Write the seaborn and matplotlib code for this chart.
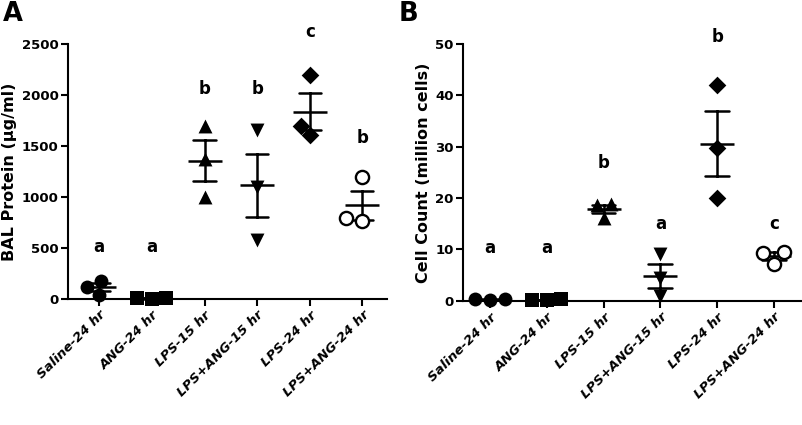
import numpy as np
import pandas as pd
import matplotlib
matplotlib.use('Agg')
import matplotlib.pyplot as plt
import seaborn as sns

# groups (x categories)
groups = ['Saline-24 hr', 'ANG-24 hr', 'LPS-15 hr', 'LPS+ANG-15 hr', 'LPS-24 hr', 'LPS+ANG-24 hr']
markers = ['o', 's', '^', 'v', 'D', 'o']
open_marker = [False, False, False, False, False, True]

# panel A: BAL protein (ug/ml), three animals per group
protein = [
    [40, 120, 175],
    [0, 5, 10],
    [1700, 1370, 1000],
    [1660, 1100, 580],
    [2200, 1700, 1610],
    [1200, 760, 790],
]
protein_letters = ['a', 'a', 'b', 'b', 'c', 'b']
protein_letter_y = [510, 510, 2060, 2060, 2620, 1580]

# panel B: cell count (million cells)
cells = [
    [0.3, 0.2, 0.3],
    [0.2, 0.2, 0.3],
    [18.8, 16.2, 18.6],
    [9.2, 4.4, 1.0],
    [42.0, 29.7, 20.0],
    [9.6, 7.2, 9.4],
]
cells_letters = ['a', 'a', 'b', 'a', 'b', 'c']
cells_letter_y = [10.3, 10.3, 26.8, 15.0, 51.3, 15.0]

sns.set_style('ticks')
plt.rcParams['font.family'] = ['DejaVu Sans']
plt.rcParams['font.weight'] = 'bold'
for k in ['text.color', 'axes.labelcolor', 'xtick.color', 'ytick.color', 'axes.edgecolor']:
    plt.rcParams[k] = 'black'


def to_long(values):
    rows = []
    for g, vals in zip(groups, values):
        for v in vals:
            rows.append({'group': g, 'value': v})
    return pd.DataFrame(rows)


def draw_panel(ax, values, letters, letter_y, ylim, yticks, ylabel, xlim):
    df = to_long(values)
    for g, m, op in zip(groups, markers, open_marker):
        sub = df[df['group'] == g]
        if op:
            sns.swarmplot(data=sub, x='group', y='value', order=groups, ax=ax,
                          marker=m, size=9.5, color='white', edgecolor='black',
                          linewidth=1.7)
        else:
            sns.swarmplot(data=sub, x='group', y='value', order=groups, ax=ax,
                          marker=m, size=10 if m != 'D' else 9, color='black', linewidth=0)
    # mean +/- SEM
    sns.pointplot(data=df, x='group', y='value', order=groups, ax=ax,
                  errorbar='se', capsize=0.42, color='black',
                  marker='_', markersize=25, markeredgewidth=1.8,
                  linestyle='none', err_kws={'linewidth': 1.8})
    for c in ax.collections:
        c.set_clip_on(False)
    for ln in ax.lines:
        ln.set_clip_on(False)

    for i, (t, y) in enumerate(zip(letters, letter_y)):
        ax.text(i, y, t, ha='center', va='center', fontsize=12,
                fontweight='bold', clip_on=False)

    ax.set_ylim(*ylim)
    ax.set_yticks(yticks)
    ax.set_xlim(*xlim)
    ax.set_xlabel('')
    ax.set_ylabel(ylabel, fontsize=11.5, fontweight='bold', labelpad=3)
    ax.set_xticks(range(len(groups)))
    ax.set_xticklabels(groups, rotation=45, ha='right', rotation_mode='anchor',
                       fontsize=9.5, fontweight='bold', fontstyle='italic')
    for lab in ax.get_yticklabels():
        lab.set_fontsize(9.5)
        lab.set_fontweight('bold')
    sns.despine(ax=ax)
    for s in ['left', 'bottom']:
        ax.spines[s].set_linewidth(1.5)
    ax.tick_params(width=1.5, length=5, direction='out', pad=2)


fig = plt.figure(figsize=(8.03, 4.25), dpi=100)
axA = fig.add_axes([0.085, 0.297, 0.397, 0.599])
axB = fig.add_axes([0.577, 0.292, 0.42, 0.605])

draw_panel(axA, protein, protein_letters, protein_letter_y, (0, 2500),
           [0, 500, 1000, 1500, 2000, 2500], 'BAL Protein (\u00b5g/ml)', (-0.59, 5.47))
draw_panel(axB, cells, cells_letters, cells_letter_y, (0, 50),
           [0, 10, 20, 30, 40, 50], 'Cell Count (million cells)', (-0.47, 5.47))

fig.text(0.004, 0.997, 'A', fontsize=18.5, fontweight='bold', va='top', ha='left')
fig.text(0.497, 0.997, 'B', fontsize=18.5, fontweight='bold', va='top', ha='left')

fig.savefig('out.png', dpi=100)
